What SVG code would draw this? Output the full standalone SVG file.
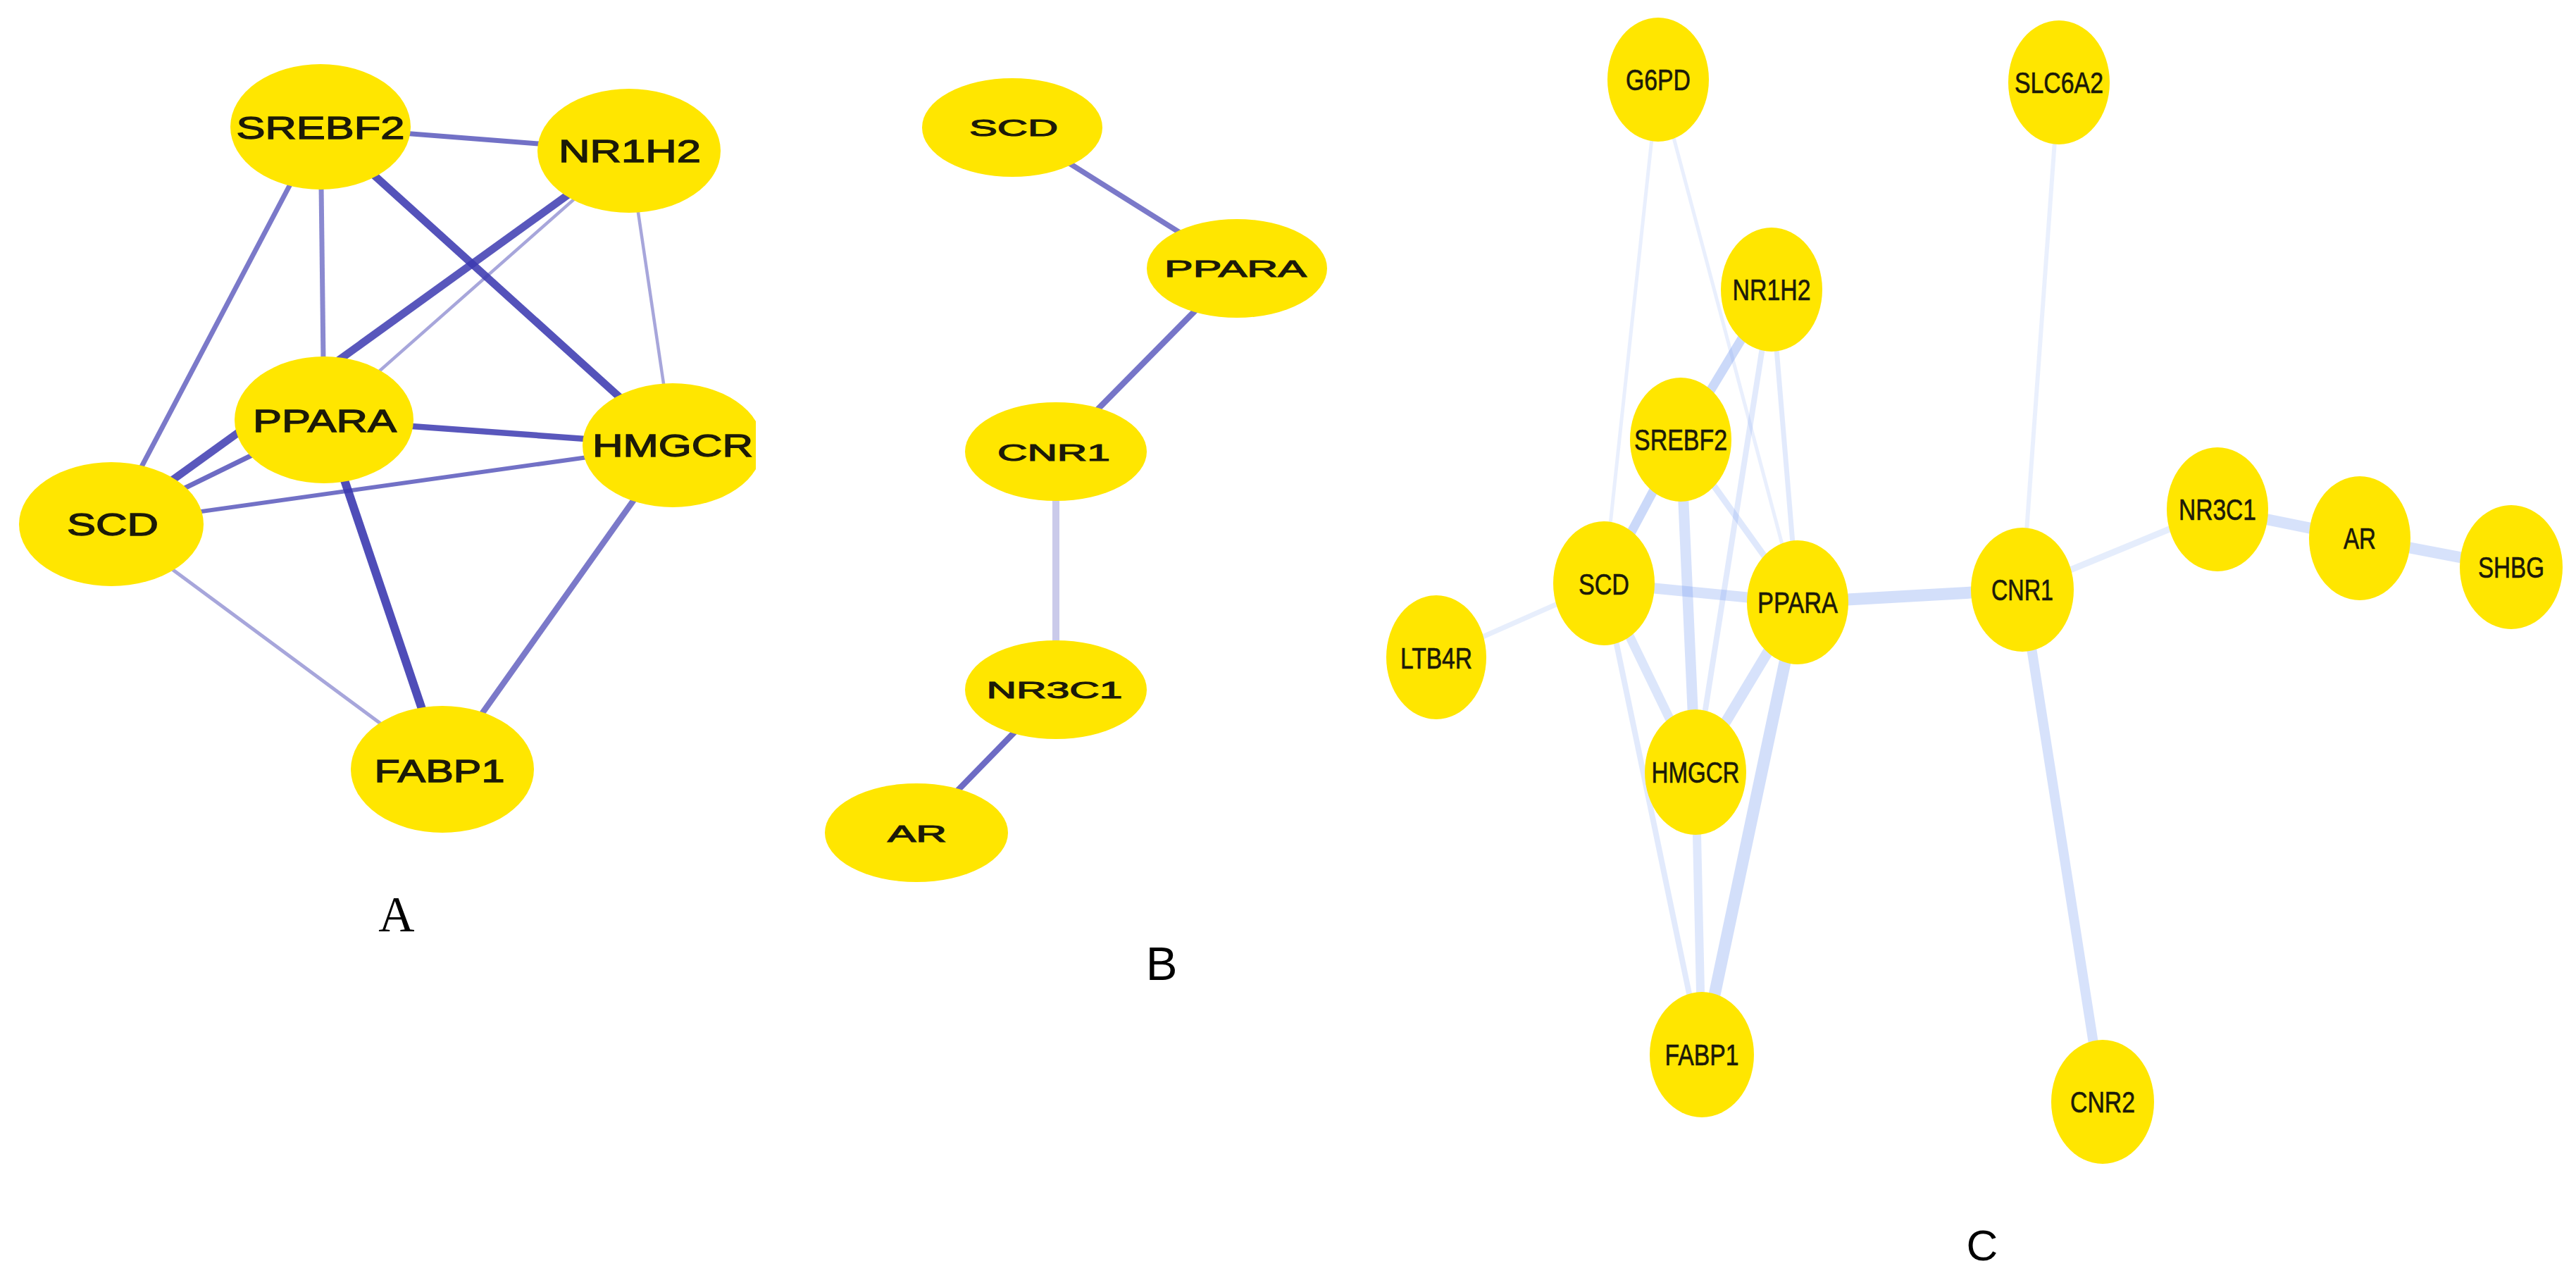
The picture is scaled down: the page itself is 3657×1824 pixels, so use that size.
<svg xmlns="http://www.w3.org/2000/svg" width="3657" height="1824" viewBox="0 0 3657 1824">
<defs>
<style>
.n{fill:#FFE600}
.t{font-family:"Liberation Sans",Arial,sans-serif;fill:#1c1a08;stroke:#1c1a08;text-anchor:middle}
.ta{font-size:44px;stroke-width:1.3px}
.tb{font-size:33px;stroke-width:1.1px}
.tc{font-size:43px;stroke-width:0.7px}
.ea{stroke:#3c3ab0;fill:none}
.ec{stroke:#608cee;fill:none}
.lbl{fill:#000;text-anchor:middle}
</style>
<clipPath id="clipA"><rect x="0" y="0" width="1073" height="1824"/></clipPath>
</defs>
<rect width="3657" height="1824" fill="#ffffff"/>

<g id="connectors">
<g id="edges-A" class="ea">
<line x1="455" y1="180" x2="893" y2="214" stroke-width="7" stroke-opacity=".72"/>
<line x1="455" y1="180" x2="158" y2="744" stroke-width="7" stroke-opacity=".68"/>
<line x1="455" y1="180" x2="460" y2="596" stroke-width="7" stroke-opacity=".6"/>
<line x1="455" y1="180" x2="955" y2="632" stroke-width="11" stroke-opacity=".88"/>
<line x1="893" y1="214" x2="158" y2="744" stroke-width="11" stroke-opacity=".85"/>
<line x1="893" y1="214" x2="460" y2="596" stroke-width="4.5" stroke-opacity=".45"/>
<line x1="893" y1="214" x2="955" y2="632" stroke-width="4.5" stroke-opacity=".45"/>
<line x1="460" y1="596" x2="955" y2="632" stroke-width="8.5" stroke-opacity=".85"/>
<line x1="460" y1="596" x2="158" y2="744" stroke-width="7" stroke-opacity=".75"/>
<line x1="460" y1="596" x2="628" y2="1092" stroke-width="12" stroke-opacity=".9"/>
<line x1="158" y1="744" x2="955" y2="632" stroke-width="6" stroke-opacity=".72"/>
<line x1="158" y1="744" x2="628" y2="1092" stroke-width="5" stroke-opacity=".45"/>
<line x1="955" y1="632" x2="628" y2="1092" stroke-width="8.5" stroke-opacity=".68"/>
</g>
<g id="edges-B" class="ea">
<line x1="1437" y1="181" x2="1756" y2="381" stroke-width="7.5" stroke-opacity=".68"/>
<line x1="1756" y1="381" x2="1499" y2="641" stroke-width="8.5" stroke-opacity=".7"/>
<line x1="1499" y1="641" x2="1499" y2="979" stroke-width="10" stroke-opacity=".27"/>
<line x1="1499" y1="979" x2="1301" y2="1182" stroke-width="8.5" stroke-opacity=".75"/>
</g>
<g id="edges-C" class="ec">
<line x1="2354" y1="113" x2="2277" y2="828" stroke-width="5" stroke-opacity=".14"/>
<line x1="2354" y1="113" x2="2552" y2="855" stroke-width="5" stroke-opacity=".14"/>
<line x1="2515" y1="411" x2="2386" y2="624" stroke-width="13" stroke-opacity=".33"/>
<line x1="2515" y1="411" x2="2552" y2="855" stroke-width="7" stroke-opacity=".18"/>
<line x1="2515" y1="411" x2="2407" y2="1096" stroke-width="8" stroke-opacity=".18"/>
<line x1="2386" y1="624" x2="2277" y2="828" stroke-width="13" stroke-opacity=".33"/>
<line x1="2386" y1="624" x2="2407" y2="1096" stroke-width="15" stroke-opacity=".25"/>
<line x1="2386" y1="624" x2="2552" y2="855" stroke-width="9" stroke-opacity=".2"/>
<line x1="2277" y1="828" x2="2552" y2="855" stroke-width="15" stroke-opacity=".25"/>
<line x1="2277" y1="828" x2="2039" y2="933" stroke-width="7" stroke-opacity=".15"/>
<line x1="2277" y1="828" x2="2407" y2="1096" stroke-width="13" stroke-opacity=".22"/>
<line x1="2277" y1="828" x2="2416" y2="1497" stroke-width="8" stroke-opacity=".18"/>
<line x1="2552" y1="855" x2="2407" y2="1096" stroke-width="15" stroke-opacity=".25"/>
<line x1="2552" y1="855" x2="2416" y2="1497" stroke-width="17" stroke-opacity=".28"/>
<line x1="2407" y1="1096" x2="2416" y2="1497" stroke-width="12" stroke-opacity=".2"/>
<line x1="2552" y1="855" x2="2871" y2="837" stroke-width="17" stroke-opacity=".28"/>
<line x1="2871" y1="837" x2="2923" y2="117" stroke-width="6" stroke-opacity=".13"/>
<line x1="2871" y1="837" x2="3148" y2="723" stroke-width="9" stroke-opacity=".16"/>
<line x1="3148" y1="723" x2="3350" y2="764" stroke-width="16" stroke-opacity=".25"/>
<line x1="3350" y1="764" x2="3565" y2="805" stroke-width="16" stroke-opacity=".25"/>
<line x1="2871" y1="837" x2="2985" y2="1564" stroke-width="14" stroke-opacity=".25"/>
</g>
</g>

<g id="A-SREBF2"><ellipse class="n" cx="455" cy="180" rx="128" ry="89"/><text class="t ta" x="455" y="197" textLength="239" lengthAdjust="spacingAndGlyphs">SREBF2</text></g>
<g id="A-NR1H2"><ellipse class="n" cx="893" cy="214" rx="130" ry="88"/><text class="t ta" x="894" y="230" textLength="202" lengthAdjust="spacingAndGlyphs">NR1H2</text></g>
<g id="A-PPARA"><ellipse class="n" cx="460" cy="596" rx="127" ry="90"/><text class="t ta" x="461" y="613" textLength="204" lengthAdjust="spacingAndGlyphs">PPARA</text></g>
<g id="A-HMGCR" clip-path="url(#clipA)"><ellipse class="n" cx="955" cy="632" rx="128" ry="88"/><text class="t ta" x="955" y="648" textLength="228" lengthAdjust="spacingAndGlyphs">HMGCR</text></g>
<g id="A-SCD"><ellipse class="n" cx="158" cy="744" rx="131" ry="88"/><text class="t ta" x="160" y="760" textLength="130" lengthAdjust="spacingAndGlyphs">SCD</text></g>
<g id="A-FABP1"><ellipse class="n" cx="628" cy="1092" rx="130" ry="90"/><text class="t ta" x="624" y="1110" textLength="185" lengthAdjust="spacingAndGlyphs">FABP1</text></g>

<g id="B-SCD"><ellipse class="n" cx="1437" cy="181" rx="128" ry="70"/><text class="t tb" x="1439" y="193" textLength="126" lengthAdjust="spacingAndGlyphs">SCD</text></g>
<g id="B-PPARA"><ellipse class="n" cx="1756" cy="381" rx="128" ry="70"/><text class="t tb" x="1754" y="393" textLength="202" lengthAdjust="spacingAndGlyphs">PPARA</text></g>
<g id="B-CNR1"><ellipse class="n" cx="1499" cy="641" rx="129" ry="70"/><text class="t tb" x="1496" y="654" textLength="160" lengthAdjust="spacingAndGlyphs">CNR1</text></g>
<g id="B-NR3C1"><ellipse class="n" cx="1499" cy="979" rx="129" ry="70"/><text class="t tb" x="1497" y="991" textLength="193" lengthAdjust="spacingAndGlyphs">NR3C1</text></g>
<g id="B-AR"><ellipse class="n" cx="1301" cy="1182" rx="130" ry="70"/><text class="t tb" x="1302" y="1195" textLength="84" lengthAdjust="spacingAndGlyphs">AR</text></g>

<g id="C-G6PD"><ellipse class="n" cx="2354" cy="113" rx="72" ry="88"/><text class="t tc" x="2354" y="128" textLength="92" lengthAdjust="spacingAndGlyphs">G6PD</text></g>
<g id="C-SLC6A2"><ellipse class="n" cx="2923" cy="117" rx="72" ry="88"/><text class="t tc" x="2923" y="132" textLength="126" lengthAdjust="spacingAndGlyphs">SLC6A2</text></g>
<g id="C-NR1H2"><ellipse class="n" cx="2515" cy="411" rx="72" ry="88"/><text class="t tc" x="2515" y="426" textLength="111" lengthAdjust="spacingAndGlyphs">NR1H2</text></g>
<g id="C-SREBF2"><ellipse class="n" cx="2386" cy="624" rx="72" ry="88"/><text class="t tc" x="2386" y="639" textLength="132" lengthAdjust="spacingAndGlyphs">SREBF2</text></g>
<g id="C-SCD"><ellipse class="n" cx="2277" cy="828" rx="72" ry="88"/><text class="t tc" x="2277" y="844" textLength="72" lengthAdjust="spacingAndGlyphs">SCD</text></g>
<g id="C-LTB4R"><ellipse class="n" cx="2039" cy="933" rx="71" ry="88"/><text class="t tc" x="2039" y="949" textLength="102" lengthAdjust="spacingAndGlyphs">LTB4R</text></g>
<g id="C-PPARA"><ellipse class="n" cx="2552" cy="855" rx="72" ry="88"/><text class="t tc" x="2552" y="870" textLength="114" lengthAdjust="spacingAndGlyphs">PPARA</text></g>
<g id="C-CNR1"><ellipse class="n" cx="2871" cy="837" rx="73" ry="88"/><text class="t tc" x="2871" y="852" textLength="88" lengthAdjust="spacingAndGlyphs">CNR1</text></g>
<g id="C-NR3C1"><ellipse class="n" cx="3148" cy="723" rx="72" ry="88"/><text class="t tc" x="3148" y="738" textLength="110" lengthAdjust="spacingAndGlyphs">NR3C1</text></g>
<g id="C-AR"><ellipse class="n" cx="3350" cy="764" rx="72" ry="88"/><text class="t tc" x="3350" y="779" textLength="46" lengthAdjust="spacingAndGlyphs">AR</text></g>
<g id="C-SHBG"><ellipse class="n" cx="3565" cy="805" rx="73" ry="88"/><text class="t tc" x="3565" y="820" textLength="94" lengthAdjust="spacingAndGlyphs">SHBG</text></g>
<g id="C-HMGCR"><ellipse class="n" cx="2407" cy="1096" rx="72" ry="89"/><text class="t tc" x="2407" y="1111" textLength="125" lengthAdjust="spacingAndGlyphs">HMGCR</text></g>
<g id="C-FABP1"><ellipse class="n" cx="2416" cy="1497" rx="74" ry="89"/><text class="t tc" x="2416" y="1512" textLength="105" lengthAdjust="spacingAndGlyphs">FABP1</text></g>
<g id="C-CNR2"><ellipse class="n" cx="2985" cy="1564" rx="73" ry="88"/><text class="t tc" x="2985" y="1579" textLength="92" lengthAdjust="spacingAndGlyphs">CNR2</text></g>

<g id="panel-labels">
<text class="lbl" x="563" y="1322" font-family="'Liberation Serif','Times New Roman',serif" font-size="71">A</text>
<text class="lbl" x="1649" y="1391" font-family="'Liberation Sans',Arial,sans-serif" font-size="67">B</text>
<text class="lbl" x="2814" y="1789" font-family="'Liberation Sans',Arial,sans-serif" font-size="62">C</text>
</g>
</svg>
